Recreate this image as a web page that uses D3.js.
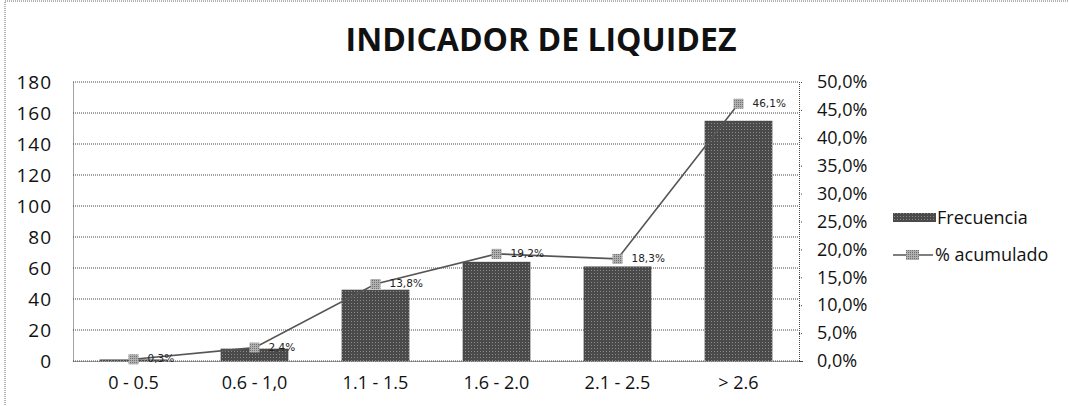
<!DOCTYPE html>
<html>
<head>
<meta charset="utf-8">
<script src="https://cdn.jsdelivr.net/npm/d3@7"></script>
<style>
  body { margin: 0; background: #fff; }
  svg { display: block; font-family: "Open Sans", sans-serif; }
</style>
</head>
<body>
<svg id="chart"></svg>
<script>
const width = 1069;
const height = 406;

// data
const categories = ["0 - 0.5", "0.6 - 1,0", "1.1 - 1.5", "1.6 - 2.0", "2.1 - 2.5", "> 2.6"];
const frecuencia = [1, 8, 46, 64, 61, 155];
const porcentaje = [0.3, 2.4, 13.8, 19.2, 18.3, 46.1];
const leftTicks = [0, 20, 40, 60, 80, 100, 120, 140, 160, 180];
const rightTicks = [0, 5, 10, 15, 20, 25, 30, 35, 40, 45, 50];

const margin = {top: 82, bottom: 45, left: 73, right: 270};

const svg = d3.select("svg#chart")
  .attr("width", width)
  .attr("height", height);

// outer chart border (dotted)
svg.append("rect")
  .attr("x", 5).attr("y", 1)
  .attr("width", width - 4).attr("height", height + 10)
  .attr("fill", "none")
  .attr("stroke", "#666")
  .attr("stroke-dasharray", "1,1");

// title
svg.append("text")
  .attr("x", 541).attr("y", 51)
  .attr("text-anchor", "middle")
  .style("font-size", "32px")
  .style("font-weight", "bold")
  .style("fill", "#111")
  .text("INDICADOR DE LIQUIDEZ");

var x = d3.scaleBand()
  .domain(categories)
  .range([margin.left, width - margin.right])
  .paddingInner(0.44)
  .paddingOuter(0.22);

var y = d3.scaleLinear()
  .domain([0, 180])
  .range([height - margin.bottom, margin.top]);

var y2 = d3.scaleLinear()
  .domain([0, 50])
  .range([height - margin.bottom, margin.top]);

// gridlines
svg.append("g")
  .attr("id", "grid")
  .selectAll("line")
  .data(leftTicks)
  .enter()
  .append("line")
    .attr("x1", margin.left)
    .attr("x2", width - margin.right)
    .attr("y1", d => y(d))
    .attr("y2", d => y(d))
    .attr("stroke", "#444")
    .attr("stroke-width", 1)
    .attr("stroke-dasharray", "1,1");

// left axis
var leftAxis = svg.append("g")
  .attr("id", "yAxis")
  .attr("transform", "translate(" + margin.left + ",0)")
  .call(d3.axisLeft(y).tickValues(leftTicks).tickSize(0).tickPadding(21));
leftAxis.select(".domain").attr("stroke", "#444").attr("stroke-dasharray", "1,1");
leftAxis.selectAll("text")
  .style("font-size", "19px")
  .style("letter-spacing", "1px")
  .style("fill", "#111")
  .style("font-family", "Open Sans");

// right axis
var rightAxis = svg.append("g")
  .attr("id", "yAxis2")
  .attr("transform", "translate(" + (width - margin.right) + ",0)")
  .call(d3.axisRight(y2).tickValues(rightTicks).tickSize(4).tickPadding(14)
    .tickFormat(d => d.toFixed(1).replace(".", ",") + "%"));
rightAxis.select(".domain").attr("stroke", "#444").attr("stroke-dasharray", "1,1");
rightAxis.selectAll("line").attr("stroke", "#444").attr("stroke-dasharray", "1,1");
rightAxis.selectAll("text").style("font-size", "18px").style("fill", "#111").style("font-family", "Open Sans");

// x axis labels
var xAxis = svg.append("g")
  .attr("id", "xAxis")
  .attr("transform", "translate(0," + (height - margin.bottom) + ")")
  .call(d3.axisBottom(x).tickSize(0).tickPadding(15));
xAxis.select(".domain").attr("stroke", "#444").attr("stroke-dasharray", "1,1");
xAxis.selectAll("text").style("font-size", "18px").style("fill", "#111").style("font-family", "Open Sans");

// hatch pattern for bars
var defs = svg.append("defs");
var pat = defs.append("pattern")
  .attr("id", "hatch")
  .attr("width", 3).attr("height", 3)
  .attr("patternUnits", "userSpaceOnUse");
pat.append("rect").attr("width", 3).attr("height", 3).attr("fill", "#4a4a4a");
pat.append("rect").attr("width", 1).attr("height", 1).attr("fill", "#8a8a8a");

var mpat = defs.append("pattern")
  .attr("id", "mhatch")
  .attr("width", 2).attr("height", 2)
  .attr("patternUnits", "userSpaceOnUse");
mpat.append("rect").attr("width", 2).attr("height", 2).attr("fill", "#b0b0b0");
mpat.append("rect").attr("width", 1).attr("height", 1).attr("fill", "#707070");

// bars
svg.append("g").attr("id", "rects")
  .selectAll("rect")
  .data(categories)
  .enter()
  .append("rect")
    .attr("x", d => x(d))
    .attr("y", (d, i) => y(frecuencia[i]))
    .attr("width", x.bandwidth())
    .attr("height", (d, i) => y(0) - y(frecuencia[i]))
    .style("fill", "url(#hatch)");

// line
var cx = d => x(d) + x.bandwidth() / 2;
var line = d3.line()
  .x(d => cx(d))
  .y((d, i) => y2(porcentaje[i]));
svg.append("path")
  .datum(categories)
  .attr("d", line)
  .attr("fill", "none")
  .attr("stroke", "#555")
  .attr("stroke-width", 1.6);

svg.append("g").attr("id", "markers")
  .selectAll("rect")
  .data(categories)
  .enter()
  .append("rect")
    .attr("x", d => cx(d) - 5)
    .attr("y", (d, i) => y2(porcentaje[i]) - 5)
    .attr("width", 10).attr("height", 10)
    .style("fill", "url(#mhatch)");

svg.append("g").attr("id", "labels")
  .selectAll("text")
  .data(categories)
  .enter()
  .append("text")
    .attr("x", d => cx(d) + 14)
    .attr("y", (d, i) => y2(porcentaje[i]) + 3)
    .style("font-size", "10.5px")
    .style("font-family", "DejaVu Sans")
    .style("fill", "#222")
    .text((d, i) => porcentaje[i].toFixed(1).replace(".", ",") + "%");

// legend
var legend = svg.append("g").attr("id", "legend");
legend.append("rect")
  .attr("x", 893).attr("y", 213)
  .attr("width", 43).attr("height", 9)
  .style("fill", "url(#hatch)");
legend.append("text")
  .attr("x", 937).attr("y", 224)
  .style("font-size", "18px").style("fill", "#111")
  .text("Frecuencia");
legend.append("line")
  .attr("x1", 893).attr("x2", 933)
  .attr("y1", 255).attr("y2", 255)
  .attr("stroke", "#555").attr("stroke-width", 1.6);
legend.append("rect")
  .attr("x", 906).attr("y", 250)
  .attr("width", 13).attr("height", 10)
  .style("fill", "url(#mhatch)");
legend.append("text")
  .attr("x", 935).attr("y", 261)
  .style("font-size", "18px").style("fill", "#111")
  .text("% acumulado");
</script>
</body>
</html>
